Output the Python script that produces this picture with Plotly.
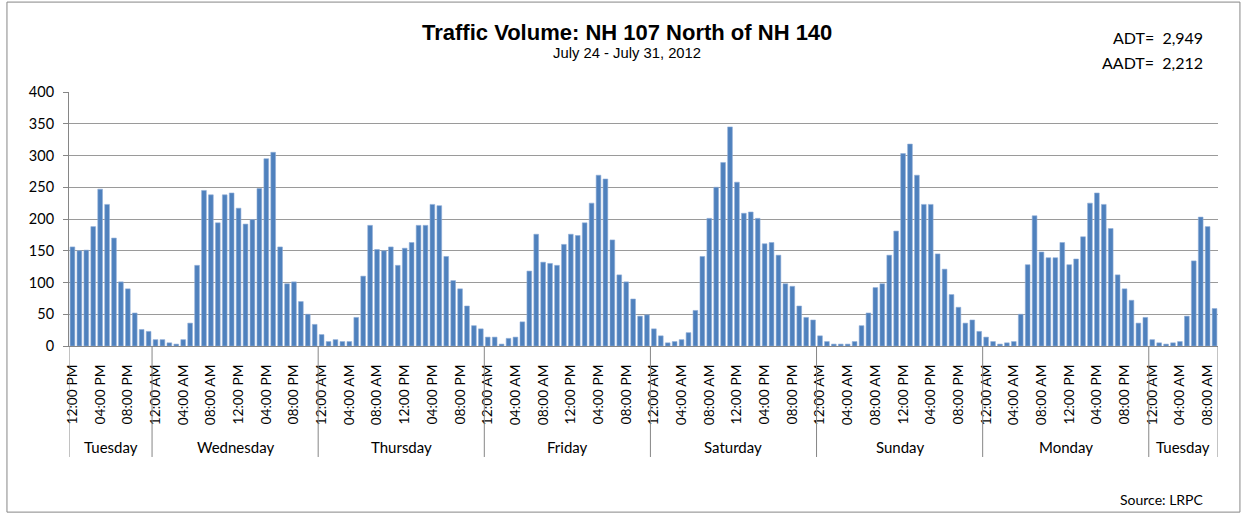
import plotly.graph_objects as go

# Hourly vehicle counts, one list per day of the count period
tuesday_pm = [156, 150, 151, 188, 247, 223, 170, 101, 90, 52, 26, 23]
wednesday = [10, 10, 5, 3, 10, 36, 127, 245, 238, 194, 238, 241,
             217, 192, 199, 248, 295, 305, 156, 98, 101, 70, 50, 34]
thursday = [18, 7, 10, 7, 7, 45, 110, 190, 152, 150, 156, 127,
            154, 163, 190, 190, 223, 221, 141, 103, 90, 63, 32, 27]
friday = [14, 14, 3, 12, 14, 38, 118, 176, 132, 130, 127, 160,
          176, 174, 194, 225, 269, 263, 167, 112, 101, 74, 47, 49]
saturday = [27, 16, 5, 7, 10, 21, 56, 141, 201, 250, 289, 345,
            258, 209, 211, 201, 161, 163, 143, 98, 94, 63, 45, 41]
sunday = [16, 7, 3, 3, 3, 7, 32, 52, 92, 98, 143, 181,
          303, 318, 269, 223, 223, 145, 121, 81, 61, 36, 41, 23]
monday = [14, 7, 3, 5, 7, 50, 128, 205, 148, 139, 139, 163,
          128, 137, 172, 225, 241, 223, 185, 112, 90, 72, 36, 45]
tuesday_am = [10, 5, 3, 5, 7, 47, 134, 203, 188, 59]

day_names = ["Tuesday", "Wednesday", "Thursday", "Friday",
             "Saturday", "Sunday", "Monday", "Tuesday"]
day_series = [tuesday_pm, wednesday, thursday, friday,
              saturday, sunday, monday, tuesday_am]

# Hour labels shown every fourth hour along the axis
hour_tick_labels = (
    ["12:00 PM", "04:00 PM", "08:00 PM"]
    + ["12:00 AM", "04:00 AM", "08:00 AM", "12:00 PM", "04:00 PM", "08:00 PM"] * 6
    + ["12:00 AM", "04:00 AM", "08:00 AM"]
)

volumes = [v for day in day_series for v in day]
hour_index = list(range(len(volumes)))
tick_positions = hour_index[::4]

BAR_BLUE = "#4F81BD"
GRID_GREY = "#9A9A9A"
LABEL_FONT = "Lato"

fig = go.Figure(
    go.Bar(
        x=hour_index,
        y=volumes,
        width=0.68,
        marker=dict(color=BAR_BLUE, line=dict(color="#8EADD6", width=0.6)),
        hoverinfo="x+y",
    )
)

# Day grouping beneath the hour labels: divider lines and centred day names
shapes = []
annotations = []
start = 0
boundaries = [start - 0.5]
for name, day in zip(day_names, day_series):
    end = start + len(day)
    boundaries.append(end - 0.5)
    annotations.append(dict(
        x=(start + end - 1) / 2, y=-0.398, xref="x", yref="paper",
        text=name, showarrow=False, xanchor="center", yanchor="middle",
        font=dict(family=LABEL_FONT, size=15, color="#000000"),
    ))
    start = end

for b in boundaries:
    shapes.append(dict(
        type="line", xref="x", yref="paper", x0=b, x1=b, y0=0, y1=-0.437,
        line=dict(color="#868686", width=1),
    ))

# Outer chart frame
shapes.append(dict(
    type="rect", xref="paper", yref="paper",
    x0=-0.054, x1=1.0191, y0=-0.654, y1=1.354,
    line=dict(color="#868686", width=1),
))

annotations += [
    dict(x=0.4856, y=1.235, xref="paper", yref="paper",
         text="<b>Traffic Volume: NH 107 North of NH 140</b>", showarrow=False,
         xanchor="center", yanchor="middle",
         font=dict(family="Liberation Sans", size=22, color="#000000")),
    dict(x=0.4856, y=1.1535, xref="paper", yref="paper",
         text="July 24 - July 31, 2012", showarrow=False,
         xanchor="center", yanchor="middle",
         font=dict(family="Liberation Sans", size=14.8, color="#000000")),
    dict(x=0.989, y=1.2126, xref="paper", yref="paper",
         text="ADT=  2,949", showarrow=False,
         xanchor="right", yanchor="middle",
         font=dict(family=LABEL_FONT, size=16, color="#000000")),
    dict(x=0.989, y=1.118, xref="paper", yref="paper",
         text="AADT=  2,212", showarrow=False,
         xanchor="right", yanchor="middle",
         font=dict(family=LABEL_FONT, size=16, color="#000000")),
    dict(x=0.9896, y=-0.603, xref="paper", yref="paper",
         text="Source: LRPC", showarrow=False,
         xanchor="right", yanchor="middle",
         font=dict(family=LABEL_FONT, size=14, color="#000000")),
]

fig.update_layout(
    width=1246,
    height=525,
    margin=dict(l=69, r=28, t=92, b=179),
    paper_bgcolor="#FFFFFF",
    plot_bgcolor="#FFFFFF",
    showlegend=False,
    bargap=0.3,
    shapes=shapes,
    annotations=annotations,
    xaxis=dict(
        range=[-0.5, len(volumes) - 0.5],
        tickmode="array",
        tickvals=tick_positions,
        ticktext=hour_tick_labels,
        tickangle=-90,
        ticks="",
        ticklabelstandoff=12,
        showgrid=False,
        zeroline=False,
        showline=True,
        linecolor="#868686",
        linewidth=1,
        tickfont=dict(family=LABEL_FONT, size=13.8, color="#000000"),
    ),
    yaxis=dict(
        range=[0, 400],
        dtick=50,
        showgrid=True,
        gridcolor=GRID_GREY,
        gridwidth=1,
        zeroline=False,
        showline=True,
        linecolor="#868686",
        linewidth=1,
        ticks="outside",
        ticklen=5,
        tickcolor="#868686",
        ticklabelstandoff=6,
        tickfont=dict(family=LABEL_FONT, size=14.5, color="#000000"),
    ),
)

fig.write_html("out.html")
